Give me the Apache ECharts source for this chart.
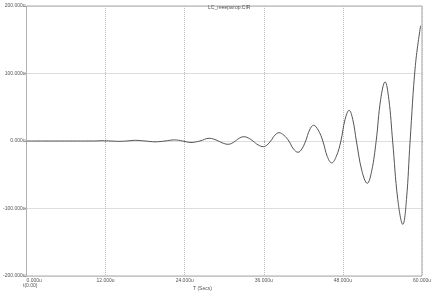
<!DOCTYPE html>
<html><head><meta charset="utf-8">
<script src="https://cdn.jsdelivr.net/npm/echarts@6/dist/echarts.min.js"></script>
<style>html,body{margin:0;padding:0;background:#fff}#c{width:434px;height:295px}</style>
</head><body><div id="c"></div>
<script>
const titleText = 'LC_генератор.CIR';
const xAxisName = 'T (Secs)';
const cursorText = 't(0.00)';
const times = [0,5,10.2,11.5,12.8,14.0,15.2,16.5,18.0,19.5,21.0,22.45,23.7,24.95,26.3,27.7,
  28.4,29.1,29.85,30.6,31.15,31.7,32.33,32.96,33.65,34.35,35.15,35.96,36.5,37.05,37.68,38.3,
  39.05,39.8,40.5,41.2,41.78,42.35,42.95,43.55,44.25,44.96,45.63,46.3,47.0,47.7,48.33,48.95,
  49.5,50.05,50.88,51.7,52.38,53.05,53.73,54.4,54.98,55.55,56.33,57.1,57.65,58.2,59.0,59.8];
const values = [0,0,0,0.4,0,-0.5,0,1.0,0,-1.2,0,1.6,0,-2.2,0,4.0,
  2.8,0,-3.4,-4.9,-3.4,0,4.5,6.4,4.5,0,-5.9,-8.4,-5.9,0,8.6,12.3,
  8.6,0,-11.7,-16.7,-11.7,0,16.3,23.3,16.3,0,-22.8,-32.5,-22.8,0,31.9,45.5,
  31.9,0,-43.9,-62.7,-43.9,0,61.3,87.6,61.3,0,-86.5,-123.5,-86.5,0,112,171];
const xTicks = [0,12,24,36,48,60];
const yTicks = [-200,-100,0,100,200];

const chart = echarts.init(document.getElementById('c'));
const fnt = {fontFamily:'Liberation Sans', fontSize:5, color:'#555'};
chart.setOption({
  backgroundColor:'#fff',
  animation:false,
  title:{text:titleText, left:203, top:0, textStyle:Object.assign({}, fnt, {fontWeight:'normal'})},
  grid:{left:22, right:12, top:6, bottom:19, show:true, borderColor:'#aaa', borderWidth:1},
  xAxis:{type:'value', min:xTicks[0], max:xTicks[xTicks.length-1], interval:12,
    axisLine:{show:false}, axisTick:{show:true, length:2, lineStyle:{color:'#aaa'}},
    splitLine:{show:true, lineStyle:{color:'#bbb', type:[1,1], width:1}},
    axisLabel:Object.assign({}, fnt, {margin:2, alignMinLabel:'left', alignMaxLabel:'center', formatter:v=>v.toFixed(3)+'u'})},
  yAxis:{type:'value', min:yTicks[0], max:yTicks[yTicks.length-1], interval:100,
    axisLine:{show:false}, axisTick:{show:true, length:2, lineStyle:{color:'#aaa'}},
    splitLine:{show:true, lineStyle:{color:'#bbb', type:[1,1], width:1}},
    axisLabel:Object.assign({}, fnt, {margin:1, formatter:v=>v.toFixed(3)+'u'})},
  graphic:[
    {type:'text', left:193, top:286, style:{text:xAxisName, fill:'#555', font:'5px "Liberation Sans"'}},
    {type:'text', left:23, top:283, style:{text:cursorText, fill:'#555', font:'5px "Liberation Sans"'}}
  ],
  series:[{type:'line', data:times.map((t,i)=>[t,values[i]]), showSymbol:false, smooth:0.4,
    lineStyle:{color:'#555', width:1}}]
});
</script></body></html>
